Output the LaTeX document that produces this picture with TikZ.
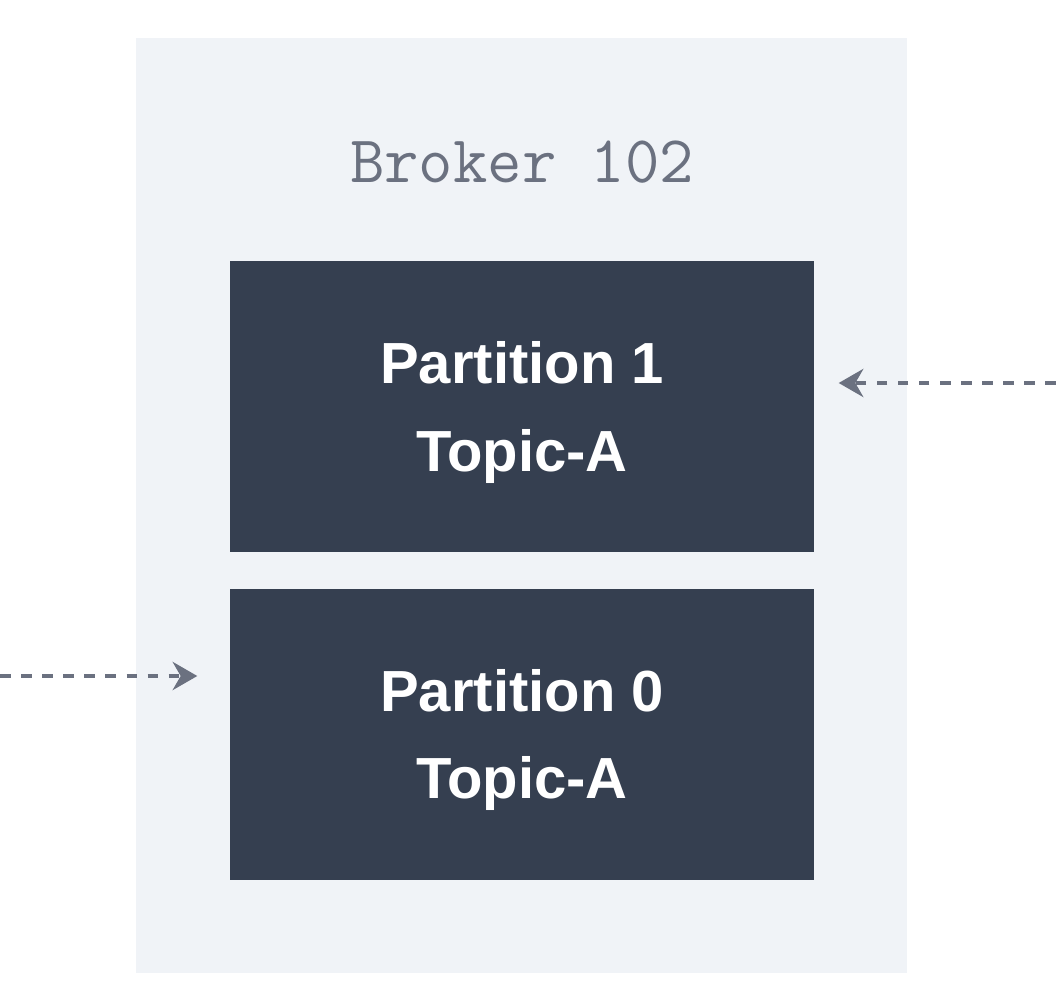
\documentclass[tikz,border=0pt]{standalone}
\usepackage{fontspec}
\setmainfont{Liberation Sans}
\usetikzlibrary{arrows.meta,positioning}
\definecolor{brokerbg}{HTML}{F0F3F7}
\definecolor{partfill}{HTML}{353F50}
\definecolor{labelgray}{HTML}{6B7180}
\tikzset{
  partbox/.style={fill=partfill, text=white, minimum width=5.84cm,
    minimum height=2.91cm, align=center, text depth=0pt,
    font=\fontsize{16.5}{25}\selectfont\bfseries},
  feed/.style={draw=labelgray, line width=1.1pt, dash pattern=on 3pt off 3pt,
    -{Stealth[length=7pt,width=8pt]}}
}
\begin{document}
\begin{tikzpicture}
  \useasboundingbox (0, 0) rectangle (10.56, 9.98);
  \node [fill=brokerbg, minimum width=7.71cm, minimum height=9.35cm] (broker) at (5.215, 4.925) {};
  \node [text=labelgray, font=\fontsize{19}{22}\selectfont\ttfamily] (brokerlabel) at (5.22, 8.36) {Broker 102};
  \node [partbox] (p1) at (5.22, 5.915) {Partition 1\\Topic-A};
  \node [partbox] (p0) at (5.22, 2.64) {Partition 0\\Topic-A};
  % incoming replication traffic
  \coordinate (in1) at (10.56, 6.15);
  \coordinate (in0) at (0, 3.22);
  \draw [feed, shorten >=0.24cm] (in1) -- (in1 -| p1.east);
  \draw [feed, shorten >=0.32cm] (in0) -- (in0 -| p0.west);
\end{tikzpicture}
\end{document}
